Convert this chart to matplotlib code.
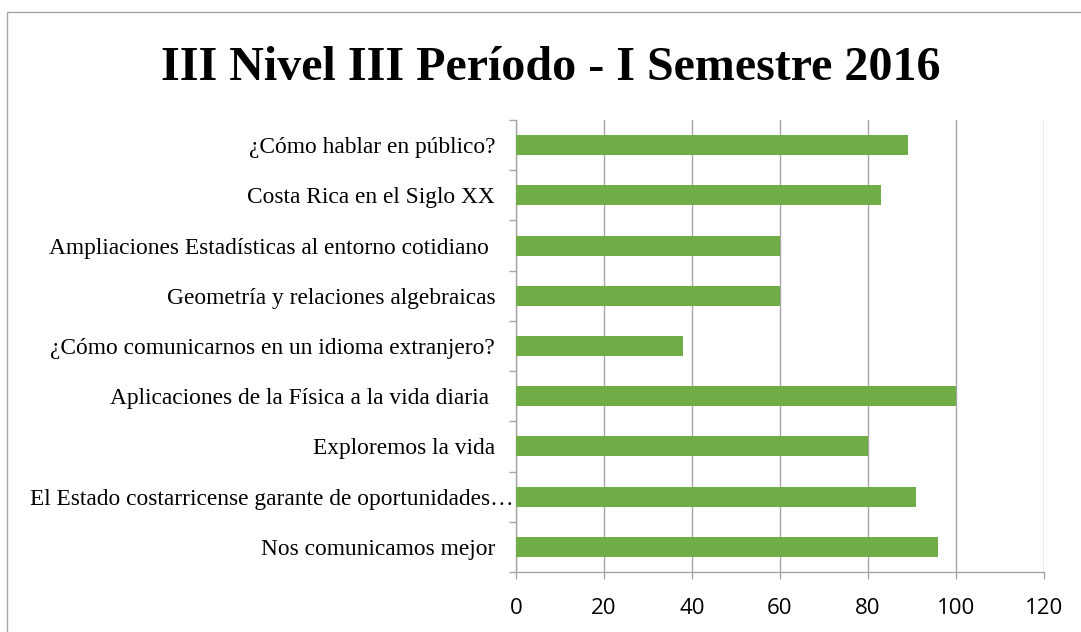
import matplotlib.pyplot as plt
from matplotlib.patches import Rectangle
from matplotlib.transforms import ScaledTranslation
import numpy as np

# data, top to bottom as in the chart
courses = [
    '¿Cómo hablar en público?',
    'Costa Rica en el Siglo XX',
    'Ampliaciones Estadísticas al entorno cotidiano ',
    'Geometría y relaciones algebraicas',
    '¿Cómo comunicarnos en un idioma extranjero?',
    'Aplicaciones de la Física a la vida diaria ',
    'Exploremos la vida',
    'El Estado costarricense garante de oportunidades…',
    'Nos comunicamos mejor',
]
scores = [89, 83, 60, 60, 38, 100, 80, 91, 96]
x_ticks = [0, 20, 40, 60, 80, 100, 120]

fig = plt.figure(figsize=(10.81, 6.32), dpi=100, facecolor='white')
ax = fig.add_axes([516 / 1081, (632 - 572) / 632, (1044 - 516) / 1081, (572 - 120) / 632])

pos = np.arange(len(courses))[::-1]
ax.barh(pos, scores, height=0.4, color='#70AD47', zorder=3)

ax.set_xlim(0, 120)
ax.set_ylim(-0.5, len(courses) - 0.5)
ax.set_xticks(x_ticks)
ax.set_xticklabels([str(t) for t in x_ticks], fontsize=16, family='Open Sans')
ax.set_yticks(pos)
ax.set_yticklabels(courses, fontsize=16.8, family='Liberation Serif')
ax.set_yticks(np.arange(len(courses) + 1) - 0.5, minor=True)
ax.tick_params(axis='y', which='major', length=0, pad=15)
ax.tick_params(axis='y', which='minor', length=5, color='#A6A6A6', width=1)
ax.tick_params(axis='x', length=5, color='#A6A6A6', width=1, pad=14)

# the truncated label sits closer to the axis in the original
lab = ax.get_yticklabels()[7]
lab.set_transform(lab.get_transform() + ScaledTranslation(18 / 100, 0, fig.dpi_scale_trans))

ax.grid(axis='x', color='#A6A6A6', linewidth=1, zorder=0)
for side in ['top', 'right']:
    ax.spines[side].set_visible(False)
for side in ['left', 'bottom']:
    ax.spines[side].set_color('#A6A6A6')
    ax.spines[side].set_linewidth(1)

fig.text(551 / 1081, 1 - 80 / 632, 'III Nivel III Período - I Semestre 2016',
         ha='center', va='baseline', fontsize=34.6, fontweight='bold', family='Liberation Serif')

# chart frame
fig.patches.append(Rectangle((7 / 1081, -0.1), 1.2, 1 - 12 / 632 + 0.1, transform=fig.transFigure,
                             fill=False, edgecolor='#A6A6A6', linewidth=1))

fig.savefig('out.png', dpi=100, facecolor='white')
